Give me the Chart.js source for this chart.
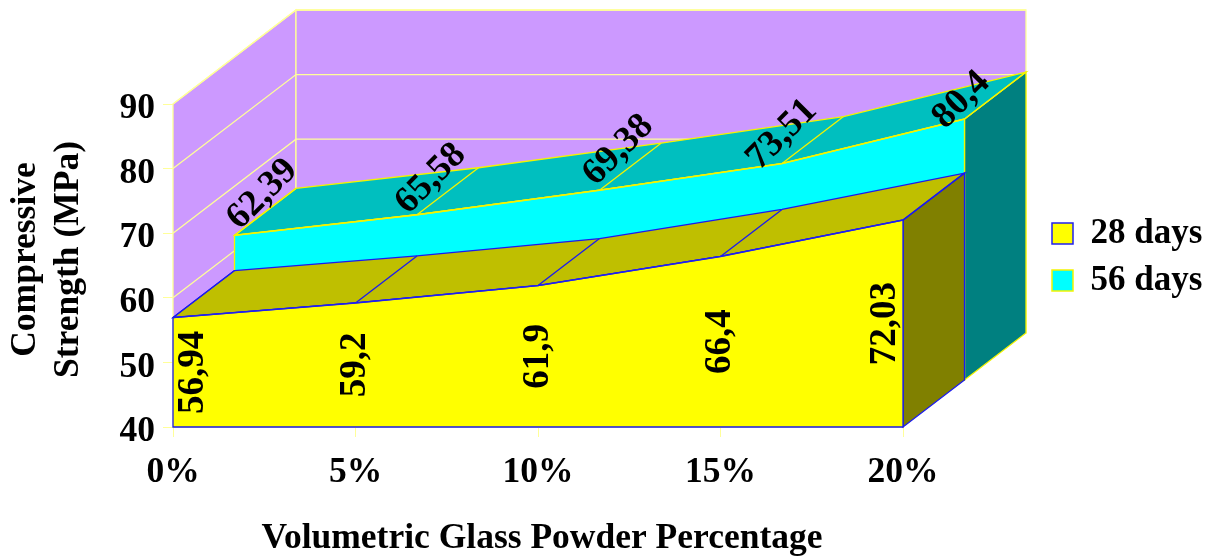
<!DOCTYPE html>
<html>
<head>
<meta charset="utf-8">
<style>html,body{margin:0;padding:0;background:#fff}canvas{display:block}</style>
<script src="https://cdn.jsdelivr.net/npm/chart.js@4"></script>
</head>
<body>
<canvas id="c" width="1210" height="556" style="width:1210px;height:556px"></canvas>
<script>
const categories = ['0%', '5%', '10%', '15%', '20%'];
const days28 = [56.94, 59.2, 61.9, 66.4, 72.03];
const days56 = [62.39, 65.58, 69.38, 73.51, 80.4];
const yTicks = [40, 50, 60, 70, 80, 90];

const FONT = 'Liberation Serif';
const STEP = { dx: 61.5, dy: -47 };           // oblique depth of one series
const FACES = [
  { depth: 0, front: '#FFFF00', top: '#BFBF00', side: '#808000', line: '#1A1AF0' },
  { depth: 1, front: '#00FFFF', top: '#00BFBF', side: '#008080', line: '#F4F400' }
];
const WALL = '#CC99FF', GRID = '#FFFF99';

function poly(ctx, pts, fill, stroke) {
  ctx.beginPath();
  pts.forEach((p, i) => i ? ctx.lineTo(p.x, p.y) : ctx.moveTo(p.x, p.y));
  ctx.closePath();
  if (fill) { ctx.fillStyle = fill; ctx.fill(); }
  if (stroke) { ctx.strokeStyle = stroke; ctx.lineWidth = 1.3; ctx.stroke(); }
}
const shift = (p, d) => ({ x: p.x + STEP.dx * d, y: p.y + STEP.dy * d });
function nudgeTitle(s, dx, dy) {
  if (s._nudged) return;
  const o = s.drawTitle;
  s.drawTitle = function () { const c = this.ctx; c.save(); c.translate(dx, dy); o.call(this); c.restore(); };
  s._nudged = true;
}

const scene = {
  id: 'scene',
  afterLayout(chart) {
    const lg = chart.legend;
    const w = lg.width, h = lg.height;
    lg.left = 1040; lg.right = lg.left + w;
    lg.top = 257 - h / 2; lg.bottom = lg.top + h;
    nudgeTitle(chart.scales.y, 1, -6);
    nudgeTitle(chart.scales.x, 4, 4);
  },
  beforeDatasetsDraw(chart) {
    const { ctx, chartArea: a, scales: { x, y } } = chart;
    const fl = { x: a.left, y: a.bottom }, tl = { x: a.left, y: a.top }, br = { x: a.right, y: a.bottom }, tr = { x: a.right, y: a.top };
    poly(ctx, [fl, tl, shift(tl, 2), shift(fl, 2)], WALL, GRID);
    poly(ctx, [shift(fl, 2), shift(tl, 2), shift(tr, 2), shift(br, 2)], WALL, GRID);
    ctx.strokeStyle = GRID; ctx.lineWidth = 1.3;
    yTicks.forEach(v => {
      const p = { x: a.left, y: y.getPixelForValue(v) };
      const b = shift(p, 2), e = { x: shift(br, 2).x, y: b.y };
      ctx.beginPath(); ctx.moveTo(p.x, p.y); ctx.lineTo(b.x, b.y); ctx.lineTo(e.x, e.y); ctx.stroke();
    });
  },
  beforeDatasetDraw(chart, args) {
    const { ctx, chartArea: a } = chart;
    const f = FACES[args.index];
    const front = args.meta.data.map(e => shift({ x: e.x, y: e.y }, f.depth));
    const back = front.map(p => shift(p, 1));
    const base = p => ({ x: p.x, y: shift({ x: p.x, y: a.bottom }, f.depth).y });
    const last = front.length - 1;
    const bf = base(front[last]);
    // side face
    poly(ctx, [front[last], back[last], shift(bf, 1), bf], f.side, f.line);
    // top face
    poly(ctx, [...front, ...back.slice().reverse()], f.top, f.line);
    front.forEach((p, i) => {
      ctx.strokeStyle = f.line; ctx.lineWidth = 1.3;
      ctx.beginPath(); ctx.moveTo(p.x, p.y); ctx.lineTo(back[i].x, back[i].y); ctx.stroke();
    });
    // front face
    poly(ctx, [base(front[0]), ...front, bf], f.front, f.line);
    // the library's own line for the series, moved to this series' depth
    ctx.save();
    ctx.translate(STEP.dx * f.depth, STEP.dy * f.depth);
  },
  afterDatasetDraw(chart) { chart.ctx.restore(); },
  afterDatasetsDraw(chart) {
    const { ctx, chartArea: a } = chart;
    const nudge56 = [[28, -41], [14, -36], [19, -40], [0, -29], [-3, -19]];
    ctx.save();
    ctx.fillStyle = '#000';
    ctx.font = 'bold 37px "' + FONT + '"';
    ctx.textAlign = 'center'; ctx.textBaseline = 'middle';
    const txt = v => String(v).replace('.', ',');
    const meta0 = chart.getDatasetMeta(0), meta1 = chart.getDatasetMeta(1);
    meta0.data.forEach((e, i) => {
      const edge = i === 0 ? 20 : i === meta0.data.length - 1 ? -18 : 0;
      ctx.save();
      ctx.translate(e.x + edge, (e.y + a.bottom) / 2);
      ctx.rotate(-Math.PI / 2);
      ctx.fillText(txt(days28[i]), 0, 0);
      ctx.restore();
    });
    meta1.data.forEach((e, i) => {
      const p = shift({ x: e.x, y: e.y }, 1);
      ctx.save();
      ctx.translate(p.x + nudge56[i][0], p.y + nudge56[i][1]);
      ctx.rotate(-Math.PI / 4);
      ctx.fillText(txt(days56[i]), 0, 0);
      ctx.restore();
    });
    ctx.restore();
  }
};

const font = { family: FONT, weight: 'bold', size: 35.5 };
const legendFont = { family: FONT, weight: 'bold', size: 35 };

new Chart(document.getElementById('c'), {
  type: 'line',
  data: {
    labels: categories,
    datasets: [
      { label: '28 days', data: days28, backgroundColor: FACES[0].front, borderColor: '#2020F0', borderWidth: 1.5, pointRadius: 0, tension: 0, fill: false, clip: false },
      { label: '56 days', data: days56, backgroundColor: FACES[1].front, borderColor: '#F4F400', borderWidth: 1.5, pointRadius: 0, tension: 0, fill: false, clip: false }
    ]
  },
  plugins: [scene],
  options: {
    responsive: false,
    animation: false,
    devicePixelRatio: 1,
    layout: { autoPadding: false, padding: { left: 0, right: 307, top: 104, bottom: 0 } },
    plugins: {
      tooltip: { enabled: false },
      title: { display: false },
      legend: {
        display: true,
        position: 'chartArea',
        labels: { color: '#000', font: legendFont, boxWidth: 21, boxHeight: 21, padding: 12 }
      }
    },
    scales: {
      x: {
        type: 'category',
        offset: false,
        afterFit(s) { s.height = 129; },
        grid: { drawOnChartArea: false, drawTicks: true, tickLength: 10, color: GRID },
        border: { display: true, color: GRID },
        ticks: { color: '#000', font, padding: 15, maxRotation: 0, autoSkip: false },
        title: { display: true, text: 'Volumetric Glass Powder Percentage', color: '#000', font, padding: { top: 0, bottom: 0 } }
      },
      y: {
        min: 40,
        max: 90,
        afterFit(s) { s.width = 173; },
        afterBuildTicks(s) { s.ticks = yTicks.map(v => ({ value: v })); },
        grid: { drawOnChartArea: false, drawTicks: true, tickLength: 10, color: GRID },
        border: { display: true, color: GRID },
        ticks: { color: '#000', font, padding: 8, labelOffset: 5 },
        title: { display: true, text: ['Compressive', 'Strength (MPa)'], color: '#000', font, padding: { top: 4, bottom: 0 } }
      }
    }
  }
});
</script>
</body>
</html>
